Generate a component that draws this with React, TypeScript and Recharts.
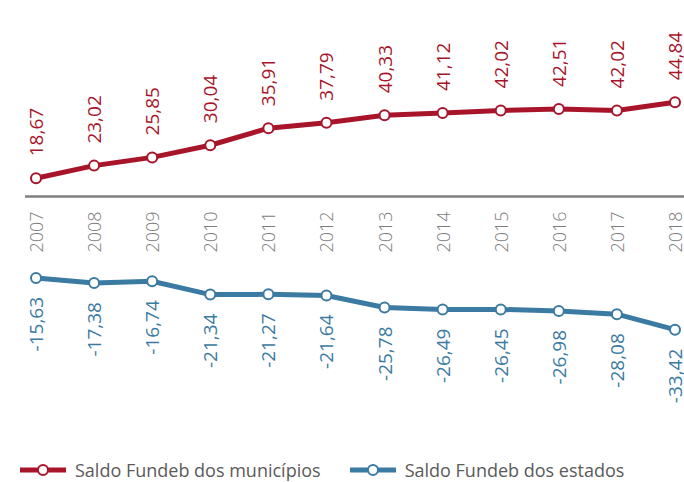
import React from "react";
import {
  LineChart,
  Line,
  XAxis,
  YAxis,
  ReferenceLine,
  ReferenceDot,
  LabelList,
  Legend,
} from "recharts";

const YEARS = ["2007", "2008", "2009", "2010", "2011", "2012", "2013", "2014", "2015", "2016", "2017", "2018"];
const MUNICIPIOS = [18.67, 23.02, 25.85, 30.04, 35.91, 37.79, 40.33, 41.12, 42.02, 42.51, 42.02, 44.84];
const ESTADOS = [-15.63, -17.38, -16.74, -21.34, -21.27, -21.64, -25.78, -26.49, -26.45, -26.98, -28.08, -33.42];
const SERIES_NAMES = ["Saldo Fundeb dos municípios", "Saldo Fundeb dos estados"];

// level where the year axis is drawn (the original puts it above zero)
const AXIS_LEVEL = 12.4;

const RED = "#a8152a";
const BLUE = "#3b7aa3";
const FONT = "'Open Sans', sans-serif";

const data = YEARS.map((year, i) => ({
  year,
  municipios: MUNICIPIOS[i],
  estados: ESTADOS[i],
}));

const fmt = (v: number) => v.toFixed(2).replace(".", ",");

const labelAbove = (color: string) => (props: any) => {
  const { x, y, value } = props;
  return (
    <text
      transform={`translate(${x},${y - 22}) rotate(-90)`}
      textAnchor="start"
      dominantBaseline="central"
      fill={color}
      fontSize={19}
      fontFamily={FONT}
    >
      {fmt(value)}
    </text>
  );
};

const labelBelow = (color: string) => (props: any) => {
  const { x, y, value } = props;
  return (
    <text
      transform={`translate(${x},${y + 19}) rotate(-90)`}
      textAnchor="end"
      dominantBaseline="central"
      fill={color}
      fontSize={19}
      fontFamily={FONT}
    >
      {fmt(value)}
    </text>
  );
};

const YearLabel = (props: any) => {
  const { viewBox, value } = props;
  return (
    <text
      transform={`translate(${viewBox.x},${viewBox.y + 15}) rotate(-90)`}
      textAnchor="end"
      dominantBaseline="central"
      fill="#7c7c7c"
      fontSize={18}
      fontWeight={300}
      fontFamily={FONT}
    >
      {value}
    </text>
  );
};

const LegendContent = (props: any) => {
  const items = [...(props.payload || [])].sort(
    (a: any, b: any) => SERIES_NAMES.indexOf(a.value) - SERIES_NAMES.indexOf(b.value)
  );
  return (
    <div style={{ display: "flex", alignItems: "center", paddingLeft: 20, fontFamily: FONT }}>
      {items.map((item: any, i: number) => (
        <div key={i} style={{ display: "flex", alignItems: "center", marginRight: 29 }}>
          <svg width={46} height={14}>
            <line x1={0} y1={7} x2={46} y2={7} stroke={item.color} strokeWidth={5} />
            <circle cx={23} cy={7} r={5} fill="#fff" stroke={item.color} strokeWidth={2} />
          </svg>
          <span style={{ marginLeft: 9, fontSize: 18, color: "#5a5a5a", lineHeight: "24px" }}>
            {item.value}
          </span>
        </div>
      ))}
    </div>
  );
};

export default function App() {
  return (
    <div style={{ position: "absolute", left: 0, top: 0, background: "#fff" }}>
      <LineChart
        width={684}
        height={482}
        data={data}
        margin={{ top: 0, right: 0, left: 25, bottom: 22 }}
      >
        <XAxis dataKey="year" hide padding={{ left: 11, right: 9 }} />
        <YAxis hide domain={[-70, 80]} />
        <ReferenceLine y={AXIS_LEVEL} stroke="#808080" strokeWidth={2.5} />
        {YEARS.map((y) => (
          <ReferenceDot
            key={y}
            x={y}
            y={AXIS_LEVEL}
            r={0}
            fill="none"
            stroke="none"
            label={<YearLabel value={y} />}
          />
        ))}
        <Line
          dataKey="municipios"
          name={SERIES_NAMES[0]}
          stroke={RED}
          strokeWidth={5}
          dot={{ r: 5, fill: "#fff", stroke: RED, strokeWidth: 2 }}
          activeDot={false}
          isAnimationActive={false}
        >
          <LabelList dataKey="municipios" content={labelAbove(RED)} />
        </Line>
        <Line
          dataKey="estados"
          name={SERIES_NAMES[1]}
          stroke={BLUE}
          strokeWidth={5}
          dot={{ r: 5, fill: "#fff", stroke: BLUE, strokeWidth: 2 }}
          activeDot={false}
          isAnimationActive={false}
        >
          <LabelList dataKey="estados" content={labelBelow(BLUE)} />
        </Line>
        <Legend
          verticalAlign="bottom"
          content={<LegendContent />}
          wrapperStyle={{ left: 0, bottom: 0, width: 684 }}
        />
      </LineChart>
    </div>
  );
}
